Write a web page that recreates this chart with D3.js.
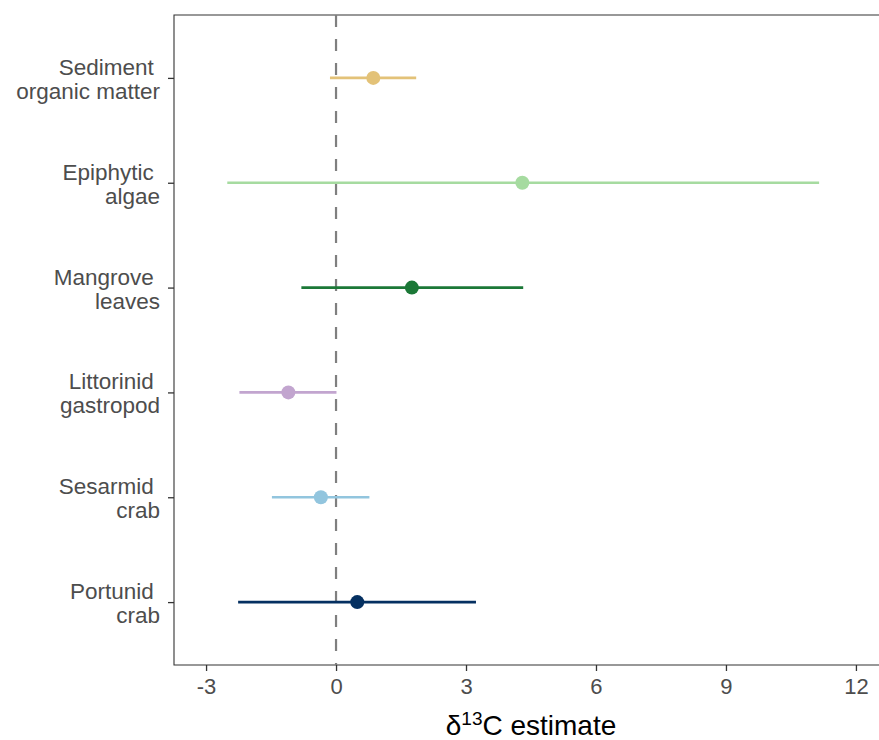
<!DOCTYPE html>
<html><head><meta charset="utf-8">
<script src="https://cdn.jsdelivr.net/npm/d3@7"></script>
<style>body{margin:0;background:#fff;} svg{display:block;font-family:"Liberation Sans",Arial,sans-serif;}</style>
</head><body>
<svg id="chart" width="879" height="740"></svg>
<script>
const categories = ["Sediment organic matter","Epiphytic algae","Mangrove leaves","Littorinid gastropod","Sesarmid crab","Portunid crab"];
const labelLines = [["Sediment ","organic matter"],["Epiphytic ","algae"],["Mangrove ","leaves"],["Littorinid ","gastropod"],["Sesarmid ","crab"],["Portunid ","crab"]];
const estimates = [0.86, 4.30, 1.75, -1.10, -0.35, 0.49];
const lowers = [-0.14, -2.51, -0.80, -2.23, -1.48, -2.26];
const uppers = [1.85, 11.15, 4.32, 0.01, 0.77, 3.23];
const colors = ["#E3C278","#A6DBA0","#1B7837","#C2A5CF","#92C5DE","#053061"];
const xTicks = [-3,0,3,6,9,12];
const xTickLabels = ["-3","0","3","6","9","12"];

const svg = d3.select("#chart");
const L = 174, T = 15, B = 665, R = 888;
const x = d3.scaleLinear().domain([-3.74, 12.74]).range([L, R]);
const y = d3.scalePoint().domain(categories).range([T, B]).padding(0.6);
const FONT = "Liberation Sans, Arial, sans-serif";

// panel border (left, top, bottom)
svg.append("path").attr("d", `M${R+20},${T}H${L}V${B}H${R+20}`).attr("fill","none").attr("stroke","#333").attr("stroke-width",1.1);

// reference line at 0
svg.append("line").attr("x1",x(0)).attr("x2",x(0)).attr("y1",T).attr("y2",B)
  .attr("stroke","#7f7f7f").attr("stroke-width",2.2).attr("stroke-dasharray","12,12");

// x axis
const xAxis = svg.append("g").attr("transform",`translate(0,${B})`)
  .call(d3.axisBottom(x).tickValues(xTicks).tickSize(6).tickPadding(7)
    .tickFormat((d,i)=>xTickLabels[i]));
xAxis.select(".domain").remove();
xAxis.attr("font-size",null).attr("font-family",null);
xAxis.selectAll(".tick line").attr("stroke","#333").attr("stroke-width",1.3);
xAxis.selectAll(".tick text").attr("fill","#4d4d4d").style("font-size","22px").style("font-family",FONT);

// y axis ticks
const yAxis = svg.append("g").attr("transform",`translate(${L},0)`)
  .call(d3.axisLeft(y).tickSize(6).tickFormat(""));
yAxis.select(".domain").remove();
yAxis.selectAll(".tick line").attr("stroke","#333").attr("stroke-width",1.3);

// y labels (two lines)
categories.forEach((c,i) => {
  const t = svg.append("text").attr("x",160).attr("y",y(c)).attr("text-anchor","end")
    .attr("fill","#4d4d4d").style("font-size","22.5px").style("white-space","pre").attr("xml:space","preserve");
  t.append("tspan").attr("x",160).attr("y",y(c)-3).text(labelLines[i][0]);
  t.append("tspan").attr("x",160).attr("y",y(c)+21).text(labelLines[i][1]);
});

// intervals
svg.append("g").selectAll("line").data(categories).join("line")
  .attr("x1",(d,i)=>x(lowers[i])).attr("x2",(d,i)=>x(uppers[i]))
  .attr("y1",d=>y(d)).attr("y2",d=>y(d))
  .attr("stroke",(d,i)=>colors[i]).attr("stroke-width",2.6);

// points
svg.append("g").selectAll("circle").data(categories).join("circle")
  .attr("cx",(d,i)=>x(estimates[i])).attr("cy",d=>y(d)).attr("r",7)
  .attr("fill",(d,i)=>colors[i]);

// x title
const title = svg.append("text").attr("x",(L+R)/2).attr("y",735).attr("text-anchor","middle")
  .attr("fill","#000").style("font-size","28px");
title.append("tspan").text("δ");
title.append("tspan").attr("dy","-10").style("font-size","19px").text("13");
title.append("tspan").attr("dy","10").text("C estimate");
</script>
</body></html>
